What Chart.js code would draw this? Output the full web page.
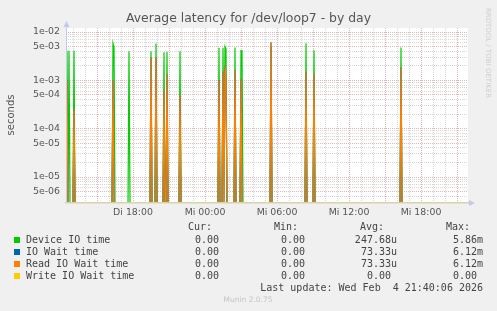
<!DOCTYPE html>
<html>
<head>
<meta charset="utf-8">
<script src="https://cdn.jsdelivr.net/npm/chart.js@4.4.1/dist/chart.umd.min.js"></script>
<style>
  html, body { margin: 0; padding: 0; background: #f0f0f0; }
  canvas { display: block; }
</style>
</head>
<body>
<canvas id="latencyChart" width="497" height="311"></canvas>
<script>
// sample times in minutes since Tuesday 00:00 (5 minute steps), everything else is 0
const sampleMinutes = [750, 760, 785, 980, 985, 1060, 1170, 1195, 1235, 1250, 1315,
  1510, 1530, 1535, 1540, 1545, 1590, 1620, 1625, 1770, 1945, 1985, 2420];
const deviceIO = [4.1e-3, 4.1e-3, 4.1e-3, 5.86e-3, 4.9e-3, 4.0e-3, 4.0e-3, 5.8e-3, 3.8e-3, 3.9e-3, 4.0e-3,
  4.7e-3, 4.7e-3, 2.6e-5, 5.0e-3, 4.5e-3, 4.8e-3, 4.1e-3, 4.1e-3, 5.0e-3, 5.86e-3, 4.2e-3, 4.8e-3];
const ioWait = [1.0e-3, 0, 2.5e-4, 1.0e-3, 0, 0, 3.0e-3, 3.0e-3, 6.3e-4, 1.35e-3, 5.0e-4,
  1.0e-3, 1.5e-3, 0, 2.0e-3, 1.0e-3, 1.6e-3, 1.05e-3, 0, 6.12e-3, 1.5e-3, 1.35e-3, 1.85e-3];
const readWait = [1.0e-3, 0, 2.5e-4, 1.0e-3, 0, 0, 3.0e-3, 3.0e-3, 6.3e-4, 1.35e-3, 5.0e-4,
  1.0e-3, 1.5e-3, 0, 2.0e-3, 1.0e-3, 1.6e-3, 1.05e-3, 0, 6.12e-3, 1.5e-3, 1.35e-3, 1.85e-3];
const writeWait = [0, 0, 0, 0, 0, 0, 0, 0, 0, 0, 0, 0, 0, 0, 0, 0, 0, 0, 0, 0, 0, 0, 0];

const seriesNames = ['Device IO time', 'IO Wait time', 'Read IO Wait time', 'Write IO Wait time'];
const seriesColors = ['#00cc00', '#0066b3', '#ff8000', '#ffcc00'];
const curText = ['0.00 ', '0.00 ', '0.00 ', '0.00 '];
const minText = ['0.00 ', '0.00 ', '0.00 ', '0.00 '];
const avgText = ['247.68u', '73.33u', '73.33u', '0.00 '];
const maxText = ['5.86m', '6.12m', '6.12m', '0.00 '];

const xTickMinutes = [1080, 1440, 1800, 2160, 2520];
const xTickLabels = ['Di 18:00', 'Mi 00:00', 'Mi 06:00', 'Mi 12:00', 'Mi 18:00'];
const yTickValues = [1e-2, 5e-3, 1e-3, 5e-4, 1e-4, 5e-5, 1e-5, 5e-6];
const yTickLabels = ['1e-02', '5e-03', '1e-03', '5e-04', '1e-04', '5e-05', '1e-05', '5e-06'];

const X_START = 745, X_END = 2755, STEP = 5;
const Y_MIN = 2.9e-6, Y_MAX = 1.21e-2;

// zero samples sit on the bottom of the log axis, like rrdtool does
function toPoints(values) {
    const pts = new Map();
    pts.set(X_START, 0);
    pts.set(X_END, 0);
    sampleMinutes.forEach(t => {
        if (!pts.has(t - STEP)) pts.set(t - STEP, 0);
        if (!pts.has(t + STEP)) pts.set(t + STEP, 0);
    });
    sampleMinutes.forEach((t, i) => pts.set(t, values[i]));
    return [...pts.entries()]
        .sort((a, b) => a[0] - b[0])
        .map(([x, v]) => ({ x: x, y: v > 0 ? v : Y_MIN }));
}

const allSeries = [deviceIO, ioWait, readWait, writeWait];

const minorGray = '#d6d6d6';
const majorPink = '#e6b4b4';

const frame = {
    id: 'frame',
    beforeDraw(chart) {
        const c = chart.ctx, a = chart.chartArea;
        c.save();
        c.fillStyle = '#f0f0f0';
        c.fillRect(0, 0, chart.width, chart.height);
        c.fillStyle = '#ffffff';
        c.fillRect(a.left, a.top, a.right - a.left, a.bottom - a.top);
        c.restore();
    },
    afterDraw(chart) {
        const c = chart.ctx, a = chart.chartArea;
        c.save();

        // axis arrows
        c.strokeStyle = '#c4c8ee';
        c.fillStyle = '#c4c8ee';
        c.lineWidth = 1;
        c.beginPath();
        c.moveTo(a.left + 0.5, a.bottom);
        c.lineTo(a.left + 0.5, a.top - 4);
        c.stroke();
        c.beginPath();
        c.moveTo(a.left - 2.5, a.top - 1);
        c.lineTo(a.left + 3.5, a.top - 1);
        c.lineTo(a.left + 0.5, a.top - 7);
        c.closePath();
        c.fill();
        c.beginPath();
        c.moveTo(a.right + 1, a.bottom - 3);
        c.lineTo(a.right + 1, a.bottom + 3);
        c.lineTo(a.right + 7, a.bottom);
        c.closePath();
        c.fill();

        // title
        c.fillStyle = '#555';
        c.textAlign = 'center';
        c.textBaseline = 'middle';
        c.font = '12.4px "DejaVu Sans"';
        c.fillText('Average latency for /dev/loop7 - by day', 248.5, 19);

        // vertical axis title
        c.save();
        c.translate(11, 115);
        c.rotate(-Math.PI / 2);
        c.font = '10px "DejaVu Sans"';
        c.fillText('seconds', 0, 0);
        c.restore();

        // rrdtool credit
        c.save();
        c.translate(488, 53);
        c.rotate(Math.PI / 2);
        c.fillStyle = '#cfcfcf';
        c.font = '7px "DejaVu Sans"';
        c.fillText('RRDTOOL / TOBI OETIKER', 0, 0);
        c.restore();

        // legend table
        c.font = '10px "DejaVu Sans Mono"';
        c.fillStyle = '#444';
        c.textAlign = 'right';
        const heads = ['Cur:', 'Min:', 'Avg:', 'Max:'];
        const headRight = [212, 298, 384, 470];
        const colRight = [225, 311, 397, 483];
        heads.forEach((h, i) => c.fillText(h, headRight[i], 227.5));
        const rowY = [240, 252, 264, 276];
        seriesNames.forEach((name, r) => {
            c.fillStyle = seriesColors[r];
            c.fillRect(14, rowY[r] - 3, 6, 6);
            c.fillStyle = '#444';
            c.textAlign = 'left';
            c.fillText(name, 26, rowY[r]);
            c.textAlign = 'right';
            [curText, minText, avgText, maxText].forEach((col, k) => {
                c.fillText(col[r], colRight[k], rowY[r]);
            });
        });
        c.fillText('Last update: Wed Feb  4 21:40:06 2026', 483, 288);

        c.textAlign = 'center';
        c.fillStyle = '#c4c4c4';
        c.font = '7.5px "DejaVu Sans"';
        c.fillText('Munin 2.0.75', 248, 300);
        c.restore();
    }
};

const ctx = document.getElementById('latencyChart').getContext('2d');
const latencyChart = new Chart(ctx, {
    type: 'line',
    data: {
        datasets: seriesNames.map((name, i) => ({
            label: name,
            data: toPoints(allSeries[i]),
            borderColor: seriesColors[i],
            borderWidth: 1.2,
            pointRadius: 0,
            tension: 0,
            fill: false,
            order: 4 - i
        }))
    },
    options: {
        responsive: false,
        animation: false,
        events: [],
        layout: { padding: { left: 0, right: 29, top: 28, bottom: 94 } },
        plugins: {
            legend: { display: false },
            title: { display: false },
            tooltip: { enabled: false }
        },
        scales: {
            x: {
                type: 'linear',
                min: X_START,
                max: X_END,
                afterFit: (scale) => { scale.height = 14; },
                afterBuildTicks: (scale) => {
                    const ticks = [];
                    for (let m = 780; m <= 2700; m += 60) ticks.push({ value: m });
                    scale.ticks = ticks;
                },
                grid: {
                    drawTicks: false,
                    color: (c) => (c.tick && c.tick.value % 180 === 0) ? majorPink : minorGray,
                    lineWidth: 1
                },
                border: { display: true, color: '#d9d2a8', width: 1.5, dash: [1, 1], z: 1 },
                ticks: {
                    autoSkip: false,
                    maxRotation: 0,
                    padding: 4,
                    color: '#555',
                    font: { family: 'DejaVu Sans', size: 9.4 },
                    callback: (value) => {
                        const i = xTickMinutes.indexOf(value);
                        return i >= 0 ? xTickLabels[i] : '';
                    }
                }
            },
            y: {
                type: 'logarithmic',
                min: Y_MIN,
                max: Y_MAX,
                afterFit: (scale) => { scale.width = 66; },
                afterBuildTicks: (scale) => {
                    const ticks = [];
                    for (let e = -6; e <= -2; e++) {
                        for (let m = 1; m <= 9; m++) {
                            const v = m * Math.pow(10, e);
                            if (v >= Y_MIN && v <= Y_MAX) ticks.push({ value: v });
                        }
                    }
                    scale.ticks = ticks;
                },
                grid: {
                    drawTicks: false,
                    color: (c) => {
                        if (!c.tick) return minorGray;
                        const v = c.tick.value;
                        return yTickValues.some(t => Math.abs(t - v) / t < 1e-6) ? majorPink : minorGray;
                    },
                    lineWidth: 1
                },
                border: { display: false, dash: [1, 1] },
                ticks: {
                    autoSkip: false,
                    padding: 6,
                    color: '#555',
                    font: { family: 'DejaVu Sans', size: 9.4 },
                    callback: (value) => {
                        const i = yTickValues.findIndex(t => Math.abs(t - value) / t < 1e-6);
                        return i >= 0 ? yTickLabels[i] : '';
                    }
                }
            }
        }
    },
    plugins: [frame]
});
</script>
</body>
</html>
